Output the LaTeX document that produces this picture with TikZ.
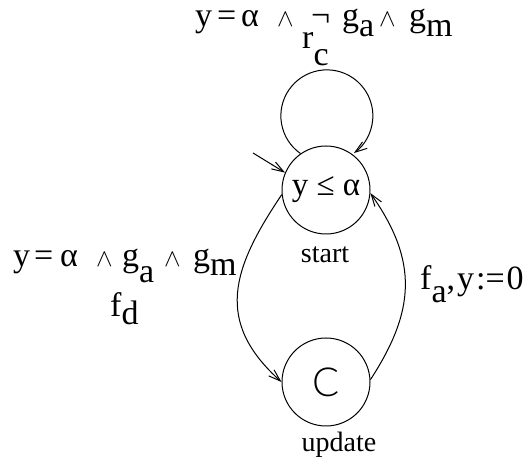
\documentclass[tikz,border=0pt]{standalone}
\usepackage{fontspec}
\setmainfont{Liberation Serif}
\newfontfamily\thinfont{Lato Light}
\usetikzlibrary{arrows.meta}
\tikzset{
  state/.style={circle, draw, line width=1pt, minimum size=88pt, inner sep=0pt},
  edge/.style={line width=1pt, -{Straight Barb[length=12pt,width=8pt]}},
  lab/.style={font=\fontsize{34}{34}\selectfont, inner sep=0pt},
  nlab/.style={font=\fontsize{28}{28}\selectfont, inner sep=0pt},
}
\newcommand\lo[2][10pt]{\raisebox{-#1}{#2}}
\newcommand\gl[2]{\makebox[0pt][l]{\hspace*{#1}#2}}
\begin{document}
\begin{tikzpicture}[x=1pt,y=1pt]
\useasboundingbox (0,0) rectangle (530,465);
\node[state, font=\fontsize{33}{33}\selectfont] (start) at (326,275) {y ≤ α};
\node[state] (update) at (326,83) {};
\node[font=\thinfont\fontsize{40}{40}\selectfont, inner sep=0pt] (c) at (update.center) {C};
\node[nlab, anchor=base] (startlab) at (325,202) {start};
\node[nlab, anchor=base] (updlab) at (339,13) {update};
\coordinate (init) at (253,312);
\draw[edge] (init) -- (start.157);
\draw[edge] (start.125) arc[start angle=235, delta angle=-289, radius=46pt];
\draw[edge] (start.186) .. controls +(236:90pt) and +(138:90pt) .. (update.180);
\draw[edge] (update.3) .. controls +(57:83pt) and +(305:83pt) .. (start.356);
\node[lab, anchor=base west] (glab) at (195,438) {\gl{0pt}{y}\gl{22pt}{=}\gl{46pt}{α}\gl{82pt}{$\wedge$}\gl{116pt}{¬}\gl{147pt}{g}\gl{164pt}{\lo{a}}\gl{184pt}{$\wedge$}\gl{214pt}{g}\hspace*{231pt}\lo{m}};
\node[lab, anchor=base west] (rc) at (302,416) {r\lo[17pt]{c}};
\node[lab, anchor=base west] (flab) at (13,198) {\gl{0pt}{y}\gl{21pt}{=}\gl{47pt}{α}\gl{83pt}{$\wedge$}\gl{109pt}{g}\gl{126pt}{\lo[16pt]{a}}\gl{151pt}{$\wedge$}\gl{180pt}{g}\hspace*{197pt}\lo[9pt]{m}};
\node[lab, anchor=base west] (fd) at (110,148) {f\lo[8pt]{d}};
\node[lab, anchor=base west] (fa) at (420,175) {\spaceskip=2pt f\lo[13pt]{a}, y := 0};
\end{tikzpicture}
\end{document}
